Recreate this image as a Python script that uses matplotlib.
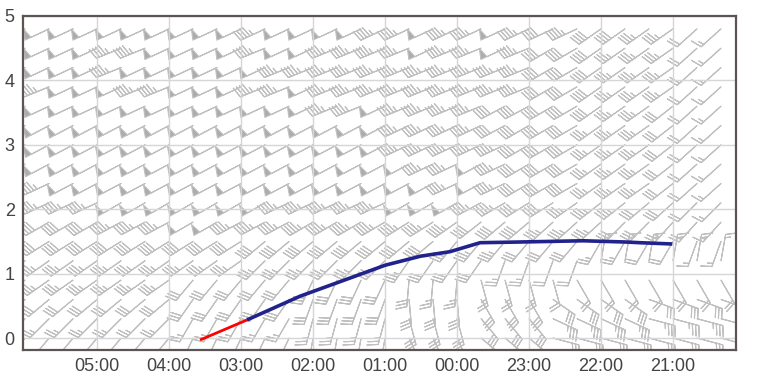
import numpy as np
import matplotlib.pyplot as plt

plt.rcParams['font.family'] = ['Liberation Sans', 'DejaVu Sans']

# hours back from 21:00 (axis runs right-to-left in time)
hour_pos = [8, 7, 6, 5, 4, 3, 2, 1, 0]
hour_labels = ['05:00', '04:00', '03:00', '02:00', '01:00', '00:00', '23:00', '22:00', '21:00']

# track: red first leg, blue rest
red_t = [6.57, 5.92]
red_y = [-0.03, 0.28]
blue_t = [5.92, 5.18, 4.49, 4.00, 3.51, 3.10, 2.68, 2.17, 1.25, 0.64, 0.46, 0.01]
blue_y = [0.28, 0.65, 0.93, 1.13, 1.27, 1.34, 1.48, 1.49, 1.51, 1.49, 1.48, 1.46]

# wind field, rows from top (4.8) to bottom (0.0), 30 columns left to right
wind_dir = [
    [245, 245, 245, 245, 245, 245, 245, 245, 245, 245, 245, 245, 245, 245, 245, 245, 245, 245, 245, 245, 245, 245, 245, 245, 235, 235, 235, 235, 228, 228],
    [245, 245, 245, 245, 248, 248, 245, 245, 245, 245, 248, 245, 245, 248, 248, 248, 248, 245, 248, 248, 245, 248, 240, 240, 235, 235, 235, 235, 228, 228],
    [245, 245, 245, 245, 248, 245, 245, 245, 245, 245, 245, 248, 248, 248, 248, 248, 248, 248, 248, 248, 248, 248, 240, 240, 235, 235, 235, 235, 228, 228],
    [248, 248, 245, 245, 245, 248, 248, 245, 245, 245, 248, 248, 245, 248, 248, 248, 248, 248, 248, 248, 248, 248, 240, 240, 235, 235, 235, 235, 228, 228],
    [245, 245, 245, 245, 245, 245, 245, 245, 245, 245, 245, 245, 245, 248, 248, 245, 248, 248, 248, 248, 242, 242, 240, 240, 235, 235, 235, 232, 228, 228],
    [242, 242, 242, 242, 242, 242, 242, 242, 242, 242, 242, 242, 242, 242, 242, 242, 245, 245, 245, 245, 242, 240, 240, 240, 235, 235, 235, 232, 228, 228],
    [242, 242, 242, 242, 242, 242, 242, 242, 242, 242, 242, 242, 242, 242, 242, 242, 245, 245, 245, 245, 245, 240, 240, 240, 235, 235, 235, 232, 228, 228],
    [245, 242, 242, 242, 242, 242, 242, 242, 242, 242, 242, 242, 242, 242, 242, 242, 242, 245, 245, 242, 245, 240, 240, 240, 235, 235, 235, 232, 228, 228],
    [245, 245, 242, 242, 242, 242, 242, 242, 242, 242, 242, 242, 242, 242, 242, 242, 242, 242, 245, 242, 245, 240, 240, 240, 235, 235, 235, 232, 228, 228],
    [245, 245, 245, 245, 240, 240, 240, 240, 240, 240, 240, 245, 245, 245, 245, 245, 240, 240, 240, 242, 240, 238, 238, 235, 232, 232, 230, 228, 225, 225],
    [240, 240, 240, 240, 242, 242, 242, 240, 240, 242, 242, 242, 240, 240, 240, 240, 238, 238, 235, 232, 230, 230, 228, 228, 228, 225, 225, 222, 222, 222],
    [238, 238, 238, 238, 238, 238, 238, 238, 238, 238, 230, 230, 230, 230, 230, 230, 230, 230, 220, 220, 220, 220, 220, 220, 210, 210, 210, 210, 200, 200],
    [235, 235, 235, 235, 235, 235, 235, 235, 235, 235, 225, 225, 225, 225, 225, 225, 215, 215, 215, 215, 200, 200, 200, 200, 10, 10, 10, 10, 10, 10],
    [235, 235, 235, 235, 235, 235, 235, 220, 220, 220, 220, 220, 205, 205, 205, 205, 185, 185, 185, 165, 165, 165, 165, 150, 150, 150, 150, 150, 150, 150],
    [230, 230, 230, 230, 230, 230, 230, 215, 215, 215, 215, 215, 200, 200, 200, 200, 175, 175, 175, 150, 150, 150, 125, 125, 125, 125, 110, 110, 110, 110],
    [225, 225, 225, 225, 225, 225, 225, 210, 210, 210, 210, 210, 195, 195, 195, 195, 165, 165, 165, 140, 140, 140, 115, 115, 115, 115, 105, 105, 105, 105],
    [220, 220, 220, 220, 220, 220, 220, 205, 205, 205, 205, 205, 190, 190, 190, 190, 155, 155, 155, 130, 130, 130, 105, 105, 105, 105, 105, 105, 105, 105],
]
wind_spd = [
    [50, 50, 50, 50, 50, 50, 50, 50, 50, 50, 45, 50, 50, 50, 50, 45, 45, 50, 45, 45, 50, 45, 40, 45, 40, 40, 35, 35, 20, 15],
    [50, 50, 50, 50, 45, 45, 50, 50, 50, 50, 45, 50, 50, 45, 45, 45, 45, 50, 45, 45, 50, 45, 40, 40, 40, 35, 35, 35, 20, 15],
    [50, 50, 50, 50, 45, 50, 50, 50, 50, 50, 50, 45, 45, 45, 45, 45, 45, 45, 45, 45, 45, 45, 40, 40, 40, 35, 35, 35, 20, 15],
    [45, 45, 50, 50, 50, 45, 45, 50, 50, 50, 45, 45, 50, 45, 45, 45, 45, 45, 45, 45, 45, 45, 40, 40, 40, 35, 35, 35, 20, 15],
    [50, 50, 50, 50, 50, 50, 50, 50, 50, 50, 50, 50, 50, 45, 45, 50, 45, 45, 45, 45, 40, 40, 40, 40, 40, 35, 35, 30, 20, 15],
    [50, 50, 50, 50, 50, 50, 50, 50, 50, 50, 50, 50, 50, 50, 50, 50, 45, 45, 45, 45, 40, 40, 40, 40, 35, 35, 35, 30, 20, 15],
    [50, 50, 50, 50, 50, 50, 50, 50, 50, 50, 50, 50, 50, 50, 50, 50, 45, 45, 45, 45, 45, 40, 40, 40, 35, 35, 35, 30, 20, 15],
    [45, 50, 50, 50, 50, 50, 50, 50, 50, 50, 50, 50, 50, 50, 50, 50, 50, 45, 45, 50, 45, 40, 40, 40, 35, 35, 35, 30, 20, 15],
    [45, 45, 50, 50, 50, 50, 50, 50, 50, 50, 50, 50, 50, 50, 50, 50, 50, 50, 45, 50, 45, 40, 40, 40, 35, 35, 35, 30, 20, 15],
    [45, 45, 45, 45, 50, 50, 50, 50, 50, 50, 50, 45, 45, 45, 45, 45, 50, 50, 50, 45, 45, 40, 40, 35, 35, 35, 30, 30, 20, 15],
    [40, 40, 40, 40, 45, 45, 45, 50, 50, 45, 45, 45, 45, 45, 45, 45, 45, 45, 45, 40, 40, 40, 35, 35, 35, 30, 30, 25, 20, 15],
    [40, 40, 40, 40, 40, 40, 40, 40, 40, 40, 40, 40, 40, 40, 40, 40, 40, 40, 35, 35, 35, 30, 30, 30, 25, 25, 20, 20, 15, 15],
    [35, 35, 35, 35, 35, 35, 35, 35, 35, 35, 35, 35, 35, 35, 35, 35, 35, 30, 30, 30, 25, 25, 20, 20, 15, 15, 15, 15, 15, 15],
    [35, 35, 35, 35, 35, 35, 35, 30, 30, 30, 30, 30, 30, 30, 30, 30, 30, 25, 25, 25, 25, 25, 20, 20, 20, 20, 20, 20, 20, 20],
    [30, 30, 30, 30, 30, 30, 30, 30, 30, 30, 30, 30, 30, 30, 30, 30, 30, 30, 30, 30, 30, 30, 30, 30, 30, 30, 30, 30, 30, 30],
    [25, 25, 25, 25, 25, 25, 25, 25, 25, 25, 25, 25, 25, 25, 25, 25, 30, 30, 30, 30, 30, 30, 35, 35, 35, 35, 35, 35, 35, 35],
    [15, 15, 15, 15, 15, 15, 15, 15, 15, 15, 15, 15, 20, 20, 20, 20, 25, 25, 25, 30, 30, 30, 30, 30, 30, 30, 30, 30, 30, 30],
]

barb_t = np.linspace(9.0, 9.0 - 29 / 3, 30)
barb_h = np.linspace(4.8, 0.0, 17)

T, H = np.meshgrid(barb_t, barb_h)
d = np.radians(np.array(wind_dir, dtype=float))
s = np.array(wind_spd, dtype=float)
U = -s * np.sin(d)
V = -s * np.cos(d)

fig = plt.figure(figsize=(7.59, 3.86), dpi=100)
ax = fig.add_axes([23 / 759, 1 - 350 / 386, (736 - 23) / 759, (350 - 16) / 386])

ax.grid(True, color='#d6d6d6', lw=1, zorder=0)
# barb staff comes out at length**2/2 points
ax.barbs(T, H, U, V, length=6.2, lw=0.8, barbcolor='#c0c0c0', flagcolor='#acacac', zorder=1)

ax.plot(red_t, red_y, color='#ff0000', lw=2, solid_capstyle='butt', zorder=3)
ax.plot(blue_t, blue_y, color='#22228c', lw=2.6, solid_capstyle='butt', zorder=3)

ax.set_xlim(9.03, -0.875)
ax.set_ylim(-0.186, 5)
ax.set_xticks(hour_pos)
ax.set_xticklabels(hour_labels)
ax.set_yticks([0, 1, 2, 3, 4, 5])
ax.tick_params(length=0, labelsize=13, colors='#444444', pad=6)
for sp in ax.spines.values():
    sp.set_color('#5a5552')
    sp.set_linewidth(1.6)

fig.savefig('out.png', dpi=100)
